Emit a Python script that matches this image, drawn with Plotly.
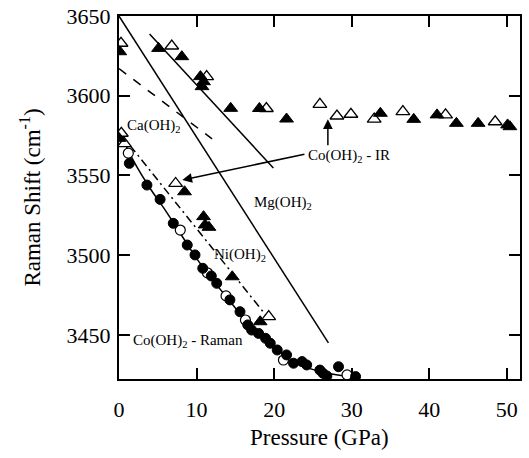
import plotly.graph_objects as go

# ---- data ----
ir_filled_p = [0.1, 5.1, 8.1, 10.5, 10.9, 10.7, 14.4, 18.1, 21.6, 33.7, 38.0, 41.0, 43.5, 46.3, 50.1, 50.4,
               0.0, 8.45, 10.9, 11.1, 11.6, 14.6, 18.2]
ir_filled_v = [3627.6, 3629.7, 3624.5, 3612.0, 3608.8, 3605.7, 3592.1, 3592.0, 3585.4, 3589.0, 3585.2, 3588.0, 3582.7, 3582.7, 3581.7, 3580.6,
               3573.3, 3539.8, 3524.2, 3519.0, 3517.5, 3486.5, 3458.3]
ir_open_p = [0.26, 6.8, 11.3, 19.0, 25.9, 28.1, 29.9, 32.9, 36.6, 42.1, 48.5,
             0.3, 0.7, 7.3, 19.3]
ir_open_v = [3632.9, 3631.2, 3612.0, 3592.0, 3594.6, 3587.3, 3588.4, 3585.4, 3590.0, 3588.0, 3583.7,
             3576.5, 3570.0, 3545.0, 3461.5]

raman_filled_p = [1.33, 3.6, 5.3, 7.0, 8.8, 9.8, 10.8, 11.9, 12.6, 14.3, 15.6, 16.6, 17.1, 18.0, 18.9, 19.5,
                  20.4, 21.6, 22.5, 23.6, 24.2, 25.9, 26.3, 26.8, 28.3, 30.5]
raman_filled_v = [3557.6, 3544.0, 3535.0, 3520.0, 3506.4, 3500.2, 3491.8, 3487.0, 3482.4, 3472.0, 3464.6, 3456.3, 3453.1, 3451.0, 3447.9, 3444.8,
                  3440.6, 3437.5, 3432.3, 3433.3, 3431.2, 3428.0, 3426.0, 3424.3, 3430.1, 3423.9]
raman_open_p = [1.2, 7.9, 11.4, 13.8, 16.3, 21.2, 29.4]
raman_open_v = [3564.0, 3515.8, 3489.0, 3474.5, 3459.4, 3434.3, 3425.0]

# fitted / reference lines (endpoints)
mg_p, mg_v = [0.0, 27.0], [3650.0, 3445.0]
ca_p, ca_v = [0.0, 12.0], [3617.0, 3573.0]
ni_p, ni_v = [0.0, 19.0], [3577.5, 3462.0]
coir_p, coir_v = [3.94, 19.9], [3638.7, 3554.7]
coraman_p = [0.2, 2, 4, 6, 8, 10, 12, 14, 16, 18, 20, 22, 24, 26, 28, 29.5]
coraman_v = [3576, 3558, 3542, 3528, 3513, 3498, 3485, 3473, 3461, 3450, 3442, 3435, 3430, 3427, 3425, 3424]

x_ticks = [0, 10, 20, 30, 40, 50]
y_ticks = [3450, 3500, 3550, 3600, 3650]

FONT = "Times New Roman, Liberation Serif, DejaVu Serif, serif"
BLACK = "black"

fig = go.Figure()

def line(px, pv, dash="solid", shape="linear"):
    fig.add_trace(go.Scatter(x=px, y=pv, mode="lines", line=dict(color=BLACK, width=1.5, dash=dash, shape=shape),
                             hoverinfo="skip", showlegend=False))

line(mg_p, mg_v)
line(ca_p, ca_v, dash="dash")
line(ni_p, ni_v, dash="8px,4px,2px,4px")
line(coir_p, coir_v)
line(coraman_p, coraman_v, shape="spline")

fig.add_trace(go.Scatter(x=raman_open_p, y=raman_open_v, mode="markers",
                         marker=dict(symbol="circle", size=10, color="white", line=dict(color=BLACK, width=1.2)),
                         showlegend=False))
fig.add_trace(go.Scatter(x=raman_filled_p, y=raman_filled_v, mode="markers",
                         marker=dict(symbol="circle", size=10, color=BLACK, line=dict(color=BLACK, width=1)),
                         showlegend=False))
fig.add_trace(go.Scatter(x=ir_open_p, y=ir_open_v, mode="markers",
                         marker=dict(symbol="triangle-up", size=12, color="white", line=dict(color=BLACK, width=1.3)),
                         showlegend=False))
fig.add_trace(go.Scatter(x=ir_filled_p, y=ir_filled_v, mode="markers",
                         marker=dict(symbol="triangle-up", size=12, color=BLACK, line=dict(color=BLACK, width=1)),
                         showlegend=False))

labels = [
    dict(x=0.8, y=3581.0, text="Ca(OH)<sub>2</sub>", xanchor="left"),
    dict(x=21.2, y=3532.5, text="Mg(OH)<sub>2</sub>", xanchor="center"),
    dict(x=15.6, y=3500.0, text="Ni(OH)<sub>2</sub>", xanchor="center"),
    dict(x=8.93, y=3446.0, text="Co(OH)<sub>2</sub> - Raman", xanchor="center"),
    dict(x=24.1, y=3562.0, text="Co(OH)<sub>2</sub> - IR", xanchor="left"),
]
for lb in labels:
    fig.add_annotation(x=lb["x"], y=lb["y"], text=lb["text"], xanchor=lb["xanchor"], yanchor="middle",
                       showarrow=False, font=dict(family=FONT, size=15, color=BLACK))

arrows = [
    dict(x=8.16, y=3547.2, ax=24.1, ay=3563.5),
    dict(x=26.93, y=3585.2, ax=26.93, ay=3568.0),
]
for a in arrows:
    fig.add_annotation(x=a["x"], y=a["y"], ax=a["ax"], ay=a["ay"], xref="x", yref="y", axref="x", ayref="y",
                       text="", showarrow=True, arrowhead=2, arrowsize=1.3, arrowwidth=1.5, arrowcolor=BLACK,
                       standoff=0, startstandoff=0)

# x-axis title placed just below the tick labels
fig.add_annotation(x=0.5, y=-0.1625, xref="paper", yref="paper", text="Pressure (GPa)", showarrow=False,
                   xanchor="center", yanchor="middle", font=dict(family=FONT, size=23, color=BLACK))

axis_common = dict(showline=True, linewidth=2, linecolor=BLACK, mirror="ticks", ticks="inside", ticklen=11,
                   tickwidth=1.5, tickcolor=BLACK, showgrid=False, zeroline=False, automargin=False,
                   tickfont=dict(family=FONT, size=22, color=BLACK))

fig.update_layout(
    width=529, height=458,
    margin=dict(l=119, r=9, t=16, b=79),
    paper_bgcolor="white", plot_bgcolor="white",
    font=dict(family=FONT, color=BLACK),
    xaxis=dict(range=[0, 51.7], tickvals=x_ticks, ticklabelstandoff=10, **axis_common),
    yaxis=dict(range=[3422.4, 3650], tickvals=y_ticks, ticklabelstandoff=2,
               title=dict(text="Raman Shift (cm<sup>-1</sup>)", font=dict(family=FONT, size=23, color=BLACK), standoff=20),
               **axis_common),
    showlegend=False,
)

fig.write_html("out.html")
